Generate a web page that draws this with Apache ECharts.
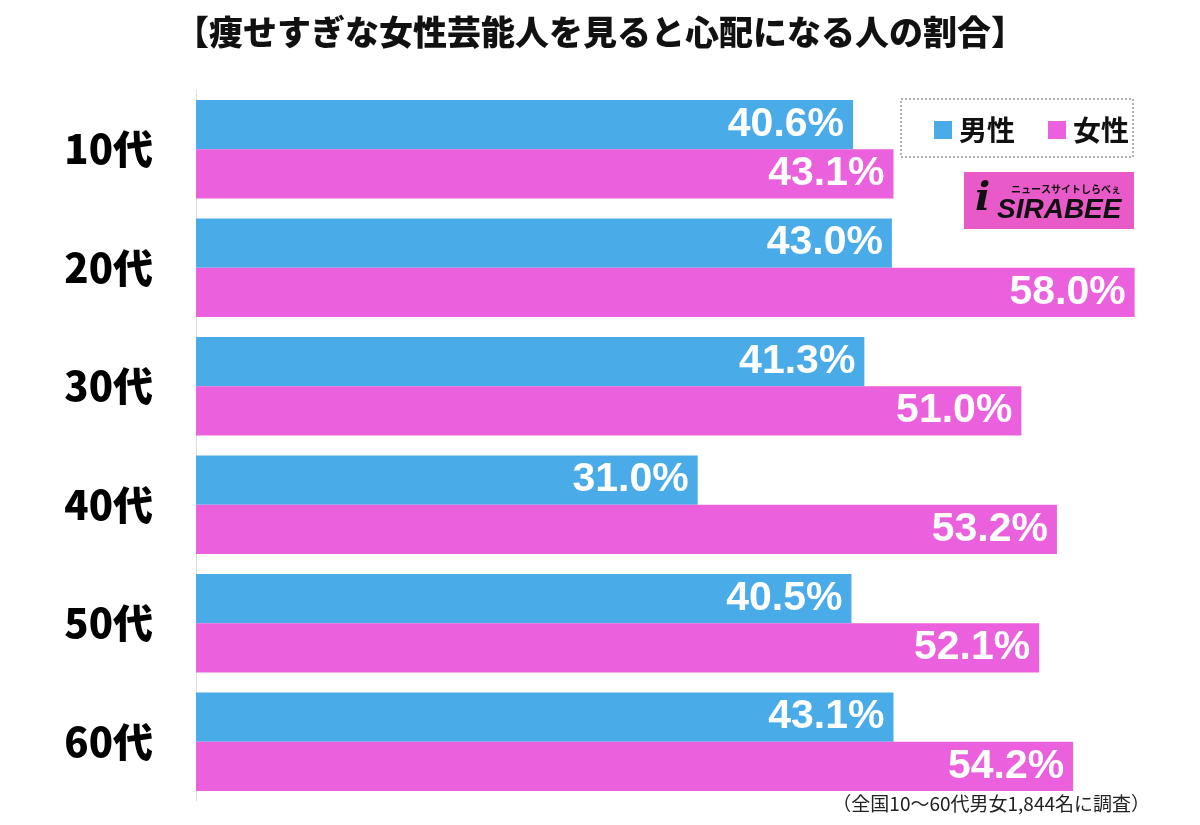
<!DOCTYPE html>
<html><head><meta charset="utf-8">
<script src="https://cdn.jsdelivr.net/npm/echarts@6/dist/echarts.min.js"></script>
<style>html,body{margin:0;padding:0;background:#fff}#c{width:1200px;height:825px}</style>
</head><body><div id="c"></div>
<script>
const categories = ['10代','20代','30代','40代','50代','60代'];
const male = [40.6, 43.0, 41.3, 31.0, 40.5, 43.1];
const female = [43.1, 58.0, 51.0, 53.2, 52.1, 54.2];
const seriesNames = ['男性','女性'];
const titleText = '【痩せすぎな女性芸能人を見ると心配になる人の割合】';
const noteText = '（全国10～60代男女1,844名に調査）';

const JP = '"Noto Sans CJK JP", "Noto Sans", sans-serif';
const chart = echarts.init(document.getElementById('c'));
const labelCfg = {
  show: true, position: 'insideRight', distance: 9,
  color: '#fff', fontSize: 41, fontWeight: 'bold',
  fontFamily: '"Liberation Sans", Arial, sans-serif',
  formatter: p => p.value.toFixed(1) + '%'
};
chart.setOption({
  animation: false,
  title: {
    text: titleText, left: 'center', top: 10,
    textStyle: { fontSize: 34, fontWeight: 900, fontFamily: JP, color: '#111' }
  },
  legend: {
    data: seriesNames, left: 929, top: 111, icon: 'rect',
    itemWidth: 18, itemHeight: 18, itemGap: 33,
    textStyle: { fontSize: 28, fontWeight: 'bold', fontFamily: JP, color: '#111', padding: [0,0,0,2] }
  },
  grid: { left: 196, right: 33, top: 90, bottom: 24, containLabel: false },
  xAxis: { type: 'value', min: 0, max: 60, show: false },
  yAxis: {
    type: 'category', data: categories, inverse: true,
    axisLine: { show: true, lineStyle: { color: '#ddd', width: 1 } },
    axisTick: { show: false },
    axisLabel: { margin: 43, fontSize: 40, fontWeight: 900, fontFamily: JP, color: '#000' }
  },
  series: [
    { name: seriesNames[0], type: 'bar', data: male, barGap: '0%', barCategoryGap: '17%',
      itemStyle: { color: '#4aabe9' }, label: labelCfg },
    { name: seriesNames[1], type: 'bar', data: female, barGap: '0%', barCategoryGap: '17%',
      itemStyle: { color: '#eb61dd' }, label: labelCfg }
  ],
  graphic: [
    { type: 'rect', shape: { x: 901, y: 99, width: 232, height: 58 },
      style: { fill: 'none', stroke: '#666', lineWidth: 1, lineDash: [2,2] } },
    { type: 'rect', shape: { x: 964, y: 172, width: 170, height: 57 },
      style: { fill: '#e95ac9' } },
    { type: 'text', x: 975, y: 180,
      style: { text: 'i', fontSize: 40, fontWeight: 900, fontStyle: 'italic', fill: '#111', fontFamily: '"DejaVu Serif", serif' } },
    { type: 'text', x: 1011, y: 184,
      style: { text: 'ニュースサイトしらべぇ', fontSize: 10, fontWeight: 'bold', fill: '#111', fontFamily: JP } },
    { type: 'text', x: 997, y: 196,
      style: { text: 'SIRABEE', fontSize: 28, fontWeight: 900, fontStyle: 'italic', fill: '#111', fontFamily: '"Liberation Sans", Arial, sans-serif' } },
    { type: 'text', right: 50, top: 794,
      style: { text: noteText, fontSize: 19, fill: '#222', fontFamily: JP } }
  ]
});
</script></body></html>
